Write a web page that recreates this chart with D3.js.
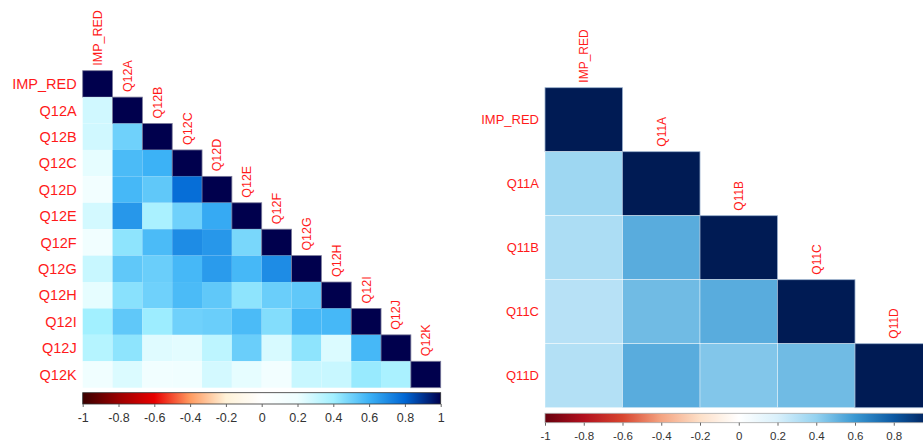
<!DOCTYPE html>
<html>
<head>
<meta charset="utf-8">
<script src="https://cdn.jsdelivr.net/npm/d3@7"></script>
<style>
  body { margin: 0; background: #fff; }
  svg { display: block; font-family: Arial, "Liberation Sans", sans-serif; }
</style>
</head>
<body>
<div id="chart"></div>
<script>
// left matrix (Q12) - lower triangle, row by row
var labelsL = ["IMP_RED", "Q12A", "Q12B", "Q12C", "Q12D", "Q12E", "Q12F", "Q12G", "Q12H", "Q12I", "Q12J", "Q12K"]
var lowerL = [
    [],
    [0.28],
    [0.28, 0.50],
    [0.22, 0.57, 0.60],
    [0.15, 0.58, 0.53, 0.78],
    [0.27, 0.67, 0.38, 0.50, 0.62],
    [0.17, 0.44, 0.57, 0.70, 0.67, 0.48],
    [0.30, 0.53, 0.51, 0.58, 0.66, 0.58, 0.70],
    [0.22, 0.45, 0.50, 0.57, 0.53, 0.44, 0.51, 0.53],
    [0.40, 0.53, 0.41, 0.50, 0.51, 0.57, 0.46, 0.58, 0.58],
    [0.35, 0.44, 0.24, 0.23, 0.33, 0.51, 0.26, 0.44, 0.25, 0.58],
    [0.18, 0.25, 0.17, 0.18, 0.27, 0.22, 0.15, 0.30, 0.30, 0.42, 0.38]
]

// right matrix (Q11)
var labelsR = ["IMP_RED", "Q11A", "Q11B", "Q11C", "Q11D"]
var lowerR = [
    [],
    [0.37],
    [0.33, 0.53],
    [0.30, 0.48, 0.53],
    [0.31, 0.53, 0.44, 0.48]
]

var ticks = [-1, -0.8, -0.6, -0.4, -0.2, 0, 0.2, 0.4, 0.6, 0.8, 1]

var stopsL = ["#3a0000", "#9a0000", "#e80000", "#ff9a60", "#fff2d8", "#ffffff", "#eefeff", "#a2f0ff", "#3cb2f6", "#0066d4", "#00004d"]
var stopsR = ["#67000d", "#b2101e", "#d8452f", "#f4a482", "#fde0c8", "#ffffff", "#d9f0fb", "#94d2f0", "#3a98d2", "#0b58a2", "#001b54"]

const W = 923, H = 441

const svg = d3.select("#chart")
    .append("svg")
    .attr("width", W)
    .attr("height", H)

function toCells(labels, lower) {
    let cells = []
    labels.forEach((r, i) => {
        lower[i].forEach((v, j) => cells.push({ row: r, col: labels[j], v: v }))
        cells.push({ row: r, col: r, v: 1, diag: true })
    })
    return cells
}

function drawPanel(opt) {
    const color = d3.scaleLinear().domain(ticks).range(opt.stops)
    const x = d3.scaleBand().domain(opt.labels).range([opt.x0, opt.x1])
    const y = d3.scaleBand().domain(opt.labels).range([opt.y0, opt.y1])
    const g = svg.append("g")

    g.append("g")
        .selectAll("rect")
        .data(toCells(opt.labels, opt.lower))
        .join("rect")
        .attr("x", d => x(d.col))
        .attr("y", d => y(d.row))
        .attr("width", x.bandwidth())
        .attr("height", y.bandwidth())
        .attr("fill", d => color(d.v))
        .attr("stroke", d => d.diag ? opt.diagStroke : opt.cellStroke)
        .attr("stroke-width", d => d.diag ? 0.8 : opt.cellStrokeW)

    // row labels
    g.append("g")
        .selectAll("text")
        .data(opt.labels)
        .join("text")
        .attr("x", opt.x0 - 6)
        .attr("y", d => y(d) + y.bandwidth() / 2)
        .attr("dy", "0.36em")
        .attr("text-anchor", "end")
        .attr("fill", "#ff1a1a")
        .style("font-size", opt.rowFont + "px")
        .text(d => d)

    // column labels, vertical, above the diagonal
    g.append("g")
        .selectAll("text")
        .data(opt.labels)
        .join("text")
        .attr("transform", d => `translate(${x(d) + x.bandwidth() / 2},${y(d) - 5}) rotate(-90)`)
        .attr("dy", "0.36em")
        .attr("text-anchor", "start")
        .attr("fill", "#ff1a1a")
        .style("font-size", opt.colFont + "px")
        .text(d => d)

    // colour bar
    const gid = "grad" + opt.id
    const grad = svg.append("defs").append("linearGradient").attr("id", gid)
    d3.range(0, 101).forEach(k => {
        grad.append("stop")
            .attr("offset", k + "%")
            .attr("stop-color", color(-1 + k / 50))
    })
    const bx = d3.scaleLinear().domain([-1, 1]).range([opt.x0, opt.barX1])
    g.append("rect")
        .attr("x", opt.x0)
        .attr("y", opt.barY)
        .attr("width", opt.barX1 - opt.x0)
        .attr("height", opt.barH)
        .attr("fill", `url(#${gid})`)
        .attr("stroke", opt.barStroke)
        .attr("stroke-width", 0.8)

    // only ticks that fall inside the window (right bar runs off the edge)
    const shown = ticks.filter(t => bx(t) < W - 4)
    const ax = g.append("g")
        .attr("transform", `translate(0,${opt.barY + opt.barH})`)
        .call(d3.axisBottom(bx).tickValues(shown).tickSize(3).tickPadding(6).tickFormat(d => String(d)))
    ax.select(".domain").remove()
    ax.selectAll("line").attr("stroke", "#666")
    ax.selectAll("text")
        .attr("fill", "#333")
        .style("font-size", opt.tickFont + "px")
        .style("font-family", "Arial, 'Liberation Sans', sans-serif")
}

drawPanel({
    id: "L", labels: labelsL, lower: lowerL, stops: stopsL,
    x0: 82.7, x1: 440.7, y0: 70.7, y1: 387.7,
    diagStroke: "#7a7a9a", cellStroke: "none", cellStrokeW: 0,
    rowFont: 14.5, colFont: 12.5,
    barY: 392.7, barH: 11.3, barX1: 440.7, barStroke: "#333", tickFont: 12.5
})

drawPanel({
    id: "R", labels: labelsR, lower: lowerR, stops: stopsR,
    x0: 545, x1: 932.5, y0: 87.7, y1: 407.7,
    diagStroke: "#9ab0cc", cellStroke: "#ffffff", cellStrokeW: 0.4,
    rowFont: 13, colFont: 12,
    barY: 413.3, barH: 9.4, barX1: 932.5, barStroke: "#aaa", tickFont: 11.5
})
</script>
</body>
</html>
